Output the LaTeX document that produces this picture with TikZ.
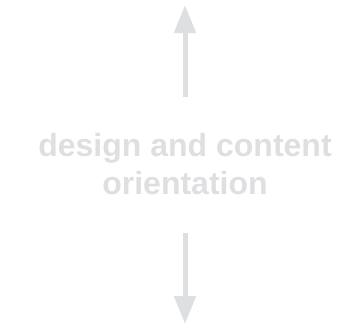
\documentclass[tikz,border=0pt]{standalone}
\usepackage{fontspec}
\setmainfont{Liberation Sans}
\usetikzlibrary{arrows.meta}
\definecolor{lightgrey}{HTML}{DEDFE1}

\begin{document}
\begin{tikzpicture}[x=1pt,y=-1pt,
  orient/.style={lightgrey,line width=5pt,-{Triangle[width=21pt,length=28pt]}},
  caption/.style={lightgrey,inner sep=0pt,align=center,font=\bfseries\fontsize{32}{38}\selectfont}]
 \useasboundingbox (0,0) rectangle (349,335);
 \node[caption,anchor=base] (label) at (185,194) {design and content\\orientation};
 \coordinate (upfoot) at (185,97);
 \coordinate (uptip) at (185,5);
 \coordinate (downfoot) at (185,233);
 \coordinate (downtip) at (185,324);
 \draw[orient] (upfoot) -- (uptip);
 \draw[orient] (downfoot) -- (downtip);
\end{tikzpicture}
\end{document}
